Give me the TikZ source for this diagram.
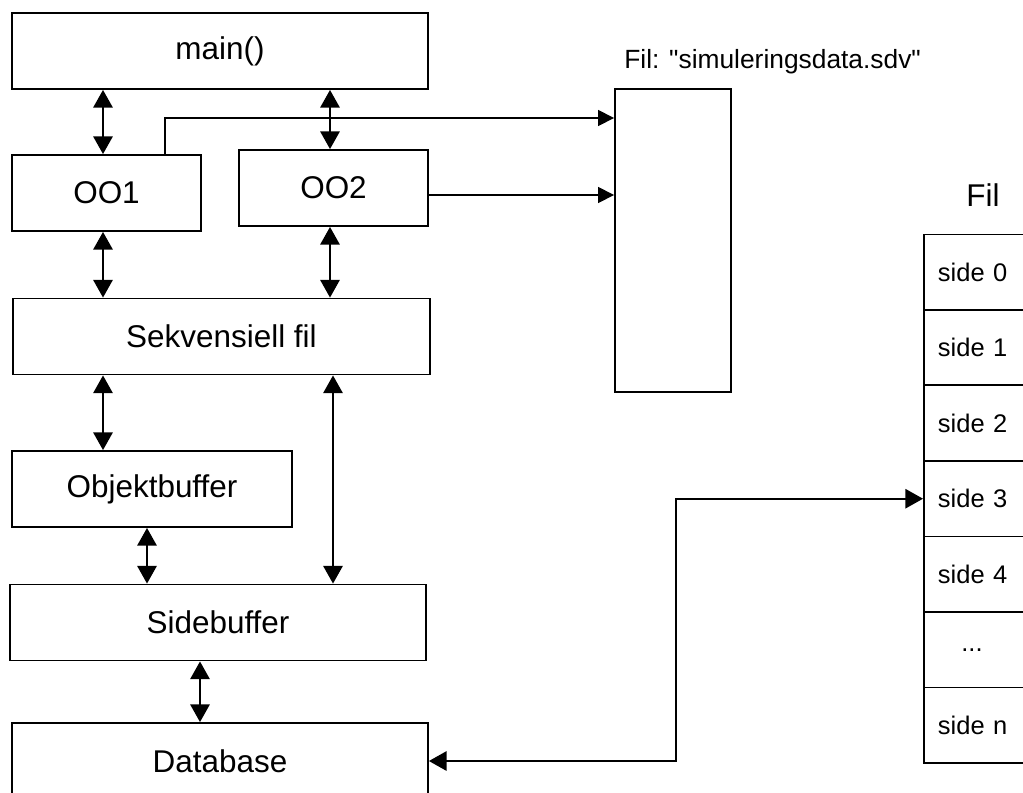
\documentclass[tikz,border=0pt]{standalone}
\usepackage{fontspec}
\setmainfont{Liberation Sans}[Ligatures=TeXOff]
\usetikzlibrary{positioning, arrows.meta, calc}
\newcommand{\prikker}{\makebox[2.67em]{...}}

\begin{document}
\begin{tikzpicture}[x=0.02cm, y=-0.02cm,
  blokk/.style={draw, line width=1.1pt, minimum height=1.52cm, inner sep=0pt,
    font=\fontsize{17.9}{21}\selectfont},
  rad/.style={draw, line width=1.1pt, minimum height=1.51cm, text width=2cm,
    align=left, inner xsep=0.28cm, inner ysep=0pt, font=\fontsize{14.5}{17}\selectfont},
  darr/.style={{Triangle[length=10pt,width=11pt]}-{Triangle[length=10pt,width=11pt]}, line width=0.9pt},
  arr/.style={-{Triangle[length=9pt,width=9pt]}, line width=0.9pt}]

\useasboundingbox (0,0) rectangle (1023,792);

\node[blokk, minimum width=8.32cm] (main) at (220,51) {main()};
\node[blokk, minimum width=3.78cm] (oo1)  at (106.5,193) {OO1};
\node[blokk, minimum width=3.78cm] (oo2)  at (333.5,188) {OO2};
\node[blokk, minimum width=8.34cm] (sekv) at (221.5,336.5) {Sekvensiell fil};
\node[blokk, minimum width=5.6cm]  (obj)  at (152,489) {Objektbuffer};
\node[blokk, minimum width=8.32cm] (sbuf) at (218,622.5) {Sidebuffer};
\node[blokk, minimum width=8.32cm] (db)   at (220,761) {Database};

% simuleringsfila
\node[draw, line width=1.1pt, minimum width=2.32cm, minimum height=6.06cm] (fil) at (673,240.5) {};
\node[anchor=base west, inner sep=0pt, font=\fontsize{15}{18}\selectfont] (filnavn) at (624,68)
  {Fil: "simuleringsdata.sdv"};

% fila med sider
\node[anchor=base, inner sep=0pt, font=\fontsize{17.9}{21}\selectfont] (tittel) at (983,206) {Fil};
\foreach \navn [count=\i from 0] in {side 0, side 1, side 2, side 3, side 4, \prikker, side n}
  \node[rad, anchor=north west] (r\i) at (923, 233.5+75.5*\i) {\navn};

\coordinate (k1) at (103,0);
\coordinate (k2) at (330,0);
\coordinate (k3) at (147,0);
\coordinate (k4) at (333,0);
\coordinate (k5) at (200,0);

\draw[darr] (main.south -| k1) -- (oo1.north -| k1);
\draw[darr] (main.south -| k2) -- (oo2.north -| k2);
\draw[darr] (oo1.south -| k1) -- (sekv.north -| k1);
\draw[darr] (oo2.south -| k2) -- (sekv.north -| k2);
\draw[darr] (sekv.south -| k1) -- (obj.north -| k1);
\draw[darr] (obj.south -| k3) -- (sbuf.north -| k3);
\draw[darr] (sekv.south -| k4) -- (sbuf.north -| k4);
\draw[darr] (sbuf.south -| k5) -- (db.north -| k5);

\coordinate (t1) at (165,118);
\coordinate (t2) at (430,195);
\draw[arr] (oo1.north -| t1) |- (fil.west |- t1);
\draw[arr] (oo2.east |- t2) -- (fil.west |- t2);

\draw[darr] (db.east) -| ($(db.east)!0.5!(r3.west)$) |- (r3.west);

\end{tikzpicture}
\end{document}
